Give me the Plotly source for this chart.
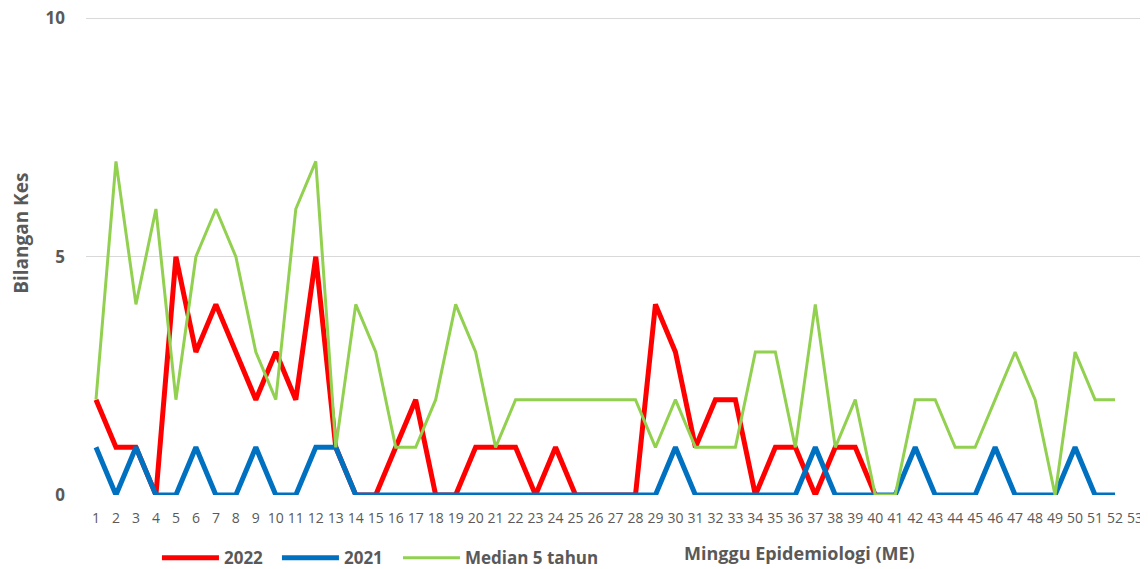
import plotly.graph_objects as go

weeks = list(range(1, 54))
y2022 = [2, 1, 1, 0, 5, 3, 4, 3, 2, 3, 2, 5, 1, 0, 0, 1, 2, 0, 0, 1,
         1, 1, 0, 1, 0, 0, 0, 0, 4, 3, 1, 2, 2, 0, 1, 1, 0, 1, 1, 0]
y2021 = [1, 0, 1, 0, 0, 1, 0, 0, 1, 0, 0, 1, 1, 0, 0, 0, 0, 0, 0, 0,
         0, 0, 0, 0, 0, 0, 0, 0, 0, 1, 0, 0, 0, 0, 0, 0, 1, 0, 0, 0,
         0, 1, 0, 0, 0, 1, 0, 0, 0, 1, 0, 0]
median5 = [2, 7, 4, 6, 2, 5, 6, 5, 3, 2, 6, 7, 1, 4, 3, 1, 1, 2, 4, 3,
           1, 2, 2, 2, 2, 2, 2, 2, 1, 2, 1, 1, 1, 3, 3, 1, 4, 1, 2, 0,
           0, 2, 2, 1, 1, 2, 3, 2, 0, 3, 2, 2]
y_ticks = [0, 5, 10]

font_family = "Open Sans, Noto Sans, sans-serif"
gray = "#595959"

fig = go.Figure()
fig.add_trace(go.Scatter(x=weeks[:len(y2022)], y=y2022, mode="lines", name="2022",
                         line=dict(color="#ff0000", width=5), legend="legend"))
fig.add_trace(go.Scatter(x=weeks[:len(y2021)], y=y2021, mode="lines", name="2021",
                         line=dict(color="#0070c0", width=5), legend="legend"))
fig.add_trace(go.Scatter(x=weeks[:len(median5)], y=median5, mode="lines", name="Median 5 tahun",
                         line=dict(color="#92d050", width=3), legend="legend2"))

legend_font = dict(size=17, color=gray, family=font_family, weight="bold")

fig.update_layout(
    width=1140, height=561,
    margin=dict(l=78, r=3, t=8, b=74, autoexpand=False),
    paper_bgcolor="white", plot_bgcolor="white",
    font=dict(family=font_family, color=gray),
    showlegend=True,
    legend=dict(orientation="h", x=0.067, xanchor="left", y=-0.132, yanchor="middle",
                font=legend_font, itemwidth=57, entrywidth=48, tracegroupgap=0),
    legend2=dict(orientation="h", x=0.2946, xanchor="left", y=-0.132, yanchor="middle",
                 font=legend_font, itemwidth=57, tracegroupgap=0),
    xaxis=dict(range=[0.5, 53.5], tickmode="array", tickvals=weeks,
               ticktext=[str(w) for w in weeks], showgrid=False, zeroline=False,
               showline=False, ticks="", tickfont=dict(size=14, color=gray),
               tickangle=0, ticklabelstandoff=13, automargin=False, fixedrange=True),
    yaxis=dict(range=[0, 10.05], tickmode="array", tickvals=y_ticks, showgrid=True,
               gridcolor="#d9d9d9", gridwidth=1.3, zeroline=False, showline=False,
               ticks="", tickfont=dict(size=17, color=gray, weight="bold"),
               ticklabelstandoff=20, ticklabeloverflow="allow",
               automargin=False, fixedrange=True),
    annotations=[
        dict(text="<b>Bilangan Kes</b>", xref="paper", yref="paper", x=-0.061, y=0.546,
             xanchor="center", yanchor="middle", textangle=-90, showarrow=False,
             font=dict(size=19, color=gray, family=font_family)),
        dict(text="<b>Minggu Epidemiologi (ME)</b>", xref="paper", yref="paper",
             x=0.674, y=-0.122, xanchor="center", yanchor="middle", showarrow=False,
             font=dict(size=18, color=gray, family=font_family)),
    ],
)

fig.write_html("out.html")
